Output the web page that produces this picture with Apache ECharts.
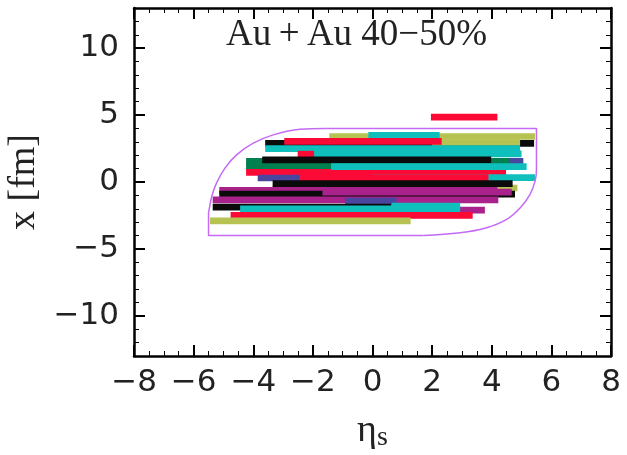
<!DOCTYPE html>
<html><head><meta charset="utf-8">
<script src="https://cdn.jsdelivr.net/npm/echarts@6/dist/echarts.min.js"></script>
<style>html,body{margin:0;padding:0;background:#fff}#c{width:627px;height:455px}</style>
</head><body><div id="c"></div>
<script>
// ---- data ----
const xTicks = [-8, -6, -4, -2, 0, 2, 4, 6, 8];
const yTicks = [-10, -5, 0, 5, 10];
const titleText = 'Au\u2009+\u2009Au 40\u221250%';

// bars (string segments) in drawing order
const etaStart = [-3.60, -1.45, -0.14, 2.00, -2.96, -3.60, -1.98, -2.51, 2.00, -4.24, -4.24, -3.70, -4.24, -1.39, 0.00, -3.85, -2.43, -3.35, -5.14, -3.35, -5.14, -1.68, -5.36, -0.92, -1.00, -5.36, -4.44, 0.64, -4.76, -5.45, 1.96];
const etaEnd   = [ 5.42,  5.45,  2.25, 4.95,  2.32,  4.95,  5.00, -1.96, 5.06,  4.60,  4.60,  3.98,  4.48,  5.17, 5.45, -2.43,  3.89,  4.86,  4.19,  4.70,  4.78,  4.67,  4.22,  0.81,  3.77,  0.64,  2.94, 2.94,  3.36,  1.28, 4.19];
const xPos     = [ 2.88,  3.40,  3.48, 2.95,  3.03,  2.50,  2.10,  2.08, 1.55,  1.55,  1.15,  1.66,  0.72,  1.15, 0.32,  0.30,  0.32, -0.45, -0.62, -0.12, -0.90, -0.75, -1.33, -1.43, -2.10, -1.88, -2.00, -1.80, -2.50, -2.90, 4.84];
const kind     = ['K', 'O', 'C', 'O', 'R', 'C', 'C', 'R', 'I', 'G', 'G', 'K', 'R', 'C', 'C', 'I', 'R', 'O', 'M', 'K', 'K', 'M', 'M', 'I', 'M', 'K', 'C', 'C', 'R', 'O', 'R'];

// boundary outline
const leftCurveEta = [-5.50, -5.48, -5.39, -5.23, -4.95, -4.56, -4.00, -3.33, -2.43, -1.59];
const leftCurveX   = [-2.30, -2.06, -1.07, -0.07, 1.04, 2.03, 2.90, 3.52, 3.94, 4.00];
const rightCurveEta = [5.50, 5.50, 5.45, 5.28, 4.95, 4.50, 3.83, 2.94, 1.71];
const rightCurveX   = [1.20, 0.92, 0.05, -0.94, -1.94, -2.80, -3.42, -3.80, -4.00];
const topEdgeEta = [-1.59, 5.50, 5.50];
const topEdgeX   = [4.00, 4.00, 1.20];
const bottomEdgeEta = [1.71, -5.50, -5.50];
const bottomEdgeX   = [-4.00, -4.00, -2.30];

const palette = {R: '#fc0a36', C: '#0fbfbc', O: '#b6c252', K: '#0b0b0b', G: '#00804f', M: '#a9218b', I: '#48469e'};
const zip = (a, b) => a.map((v, i) => [v, b[i]]);
const minus = v => String(v).replace('-', '\u2212');

const chart = echarts.init(document.getElementById('c'), null, {renderer: 'canvas'});
const lbl = {fontFamily: 'DejaVu Sans', fontSize: 31, color: '#222'};
const tickStyle = {color: '#000', width: 2};
const minorStyle = {color: '#000', width: 1};
const lineAx = {show: true, onZero: false, lineStyle: {color: '#000', width: 2.5}};

chart.setOption({
  animation: false,
  grid: {left: 134, top: 8, width: 477, height: 348, containLabel: false, outerBoundsMode: 'none'},
  graphic: [{
    type: 'text', left: 226, top: 17,
    style: {text: titleText, font: '37px "Liberation Serif", serif', fill: '#222'}
  }],
  xAxis: [
    {type: 'value', min: -8, max: 8, interval: 2, position: 'bottom',
     axisLine: lineAx,
     axisTick: {inside: true, length: 11, lineStyle: tickStyle},
     minorTick: {show: true, splitNumber: 4, length: 5, lineStyle: minorStyle},
     splitLine: {show: false},
     axisLabel: Object.assign({margin: 11, customValues: xTicks, formatter: minus}, lbl),
     name: '{e|η}{s|s}', nameLocation: 'middle', nameGap: 54,
     nameTextStyle: {rich: {
       e: {fontFamily: 'Liberation Serif', fontSize: 38, color: '#222'},
       s: {fontFamily: 'Liberation Serif', fontSize: 28, color: '#222', padding: [14, 0, 0, 0]}
     }}},
    {type: 'value', min: -8, max: 8, interval: 2, position: 'top',
     axisLine: lineAx,
     axisTick: {inside: true, length: 11, lineStyle: tickStyle},
     minorTick: {show: true, splitNumber: 4, length: 5, lineStyle: minorStyle},
     splitLine: {show: false}, axisLabel: {show: false}}
  ],
  yAxis: [
    {type: 'value', min: -13, max: 13, position: 'left',
     axisLine: lineAx,
     axisTick: {inside: true, length: 11, customValues: yTicks, lineStyle: tickStyle},
     splitLine: {show: false},
     axisLabel: Object.assign({margin: 15, customValues: yTicks, formatter: minus}, lbl),
     name: 'x [fm]', nameLocation: 'middle', nameGap: 84,
     nameTextStyle: {fontFamily: 'Liberation Serif', fontSize: 38, color: '#222'}},
    {type: 'value', min: -13, max: 13, position: 'right',
     axisLine: lineAx,
     axisTick: {inside: true, length: 11, customValues: yTicks, lineStyle: tickStyle},
     splitLine: {show: false}, axisLabel: {show: false}},
    {type: 'value', min: -13, max: 13, interval: 1, position: 'left', offset: 0,
     axisLine: {show: false, onZero: false}, axisTick: {show: true, inside: true, length: 5, lineStyle: minorStyle},
     splitLine: {show: false}, axisLabel: {show: false}},
    {type: 'value', min: -13, max: 13, interval: 1, position: 'right', offset: 0,
     axisLine: {show: false, onZero: false}, axisTick: {show: true, inside: true, length: 5, lineStyle: minorStyle},
     splitLine: {show: false}, axisLabel: {show: false}}
  ],
  series: [
    {type: 'custom', xAxisIndex: 0, yAxisIndex: 0, z: 2,
     data: etaStart.map((s, i) => [s, etaEnd[i], xPos[i], i]),
     encode: {x: [0, 1], y: 2},
     renderItem: (params, api) => {
       const a = api.coord([api.value(0), api.value(2)]);
       const b = api.coord([api.value(1), api.value(2)]);
       const h = api.size([0, 0.5])[1];
       return {type: 'rect', shape: {x: a[0], y: a[1] - h / 2, width: b[0] - a[0], height: h},
               style: {fill: palette[kind[api.value(3)]]}};
     }},
    {type: 'line', data: zip(leftCurveEta, leftCurveX), smooth: 0.4, showSymbol: false, z: 5,
     lineStyle: {color: '#c46af5', width: 1.5}},
    {type: 'line', data: zip(rightCurveEta, rightCurveX), smooth: 0.4, showSymbol: false, z: 5,
     lineStyle: {color: '#c46af5', width: 1.5}},
    {type: 'line', data: zip(topEdgeEta, topEdgeX), showSymbol: false, z: 5,
     lineStyle: {color: '#c46af5', width: 1.5}},
    {type: 'line', data: zip(bottomEdgeEta, bottomEdgeX), showSymbol: false, z: 5,
     lineStyle: {color: '#c46af5', width: 1.5}}
  ]
});
</script></body></html>
